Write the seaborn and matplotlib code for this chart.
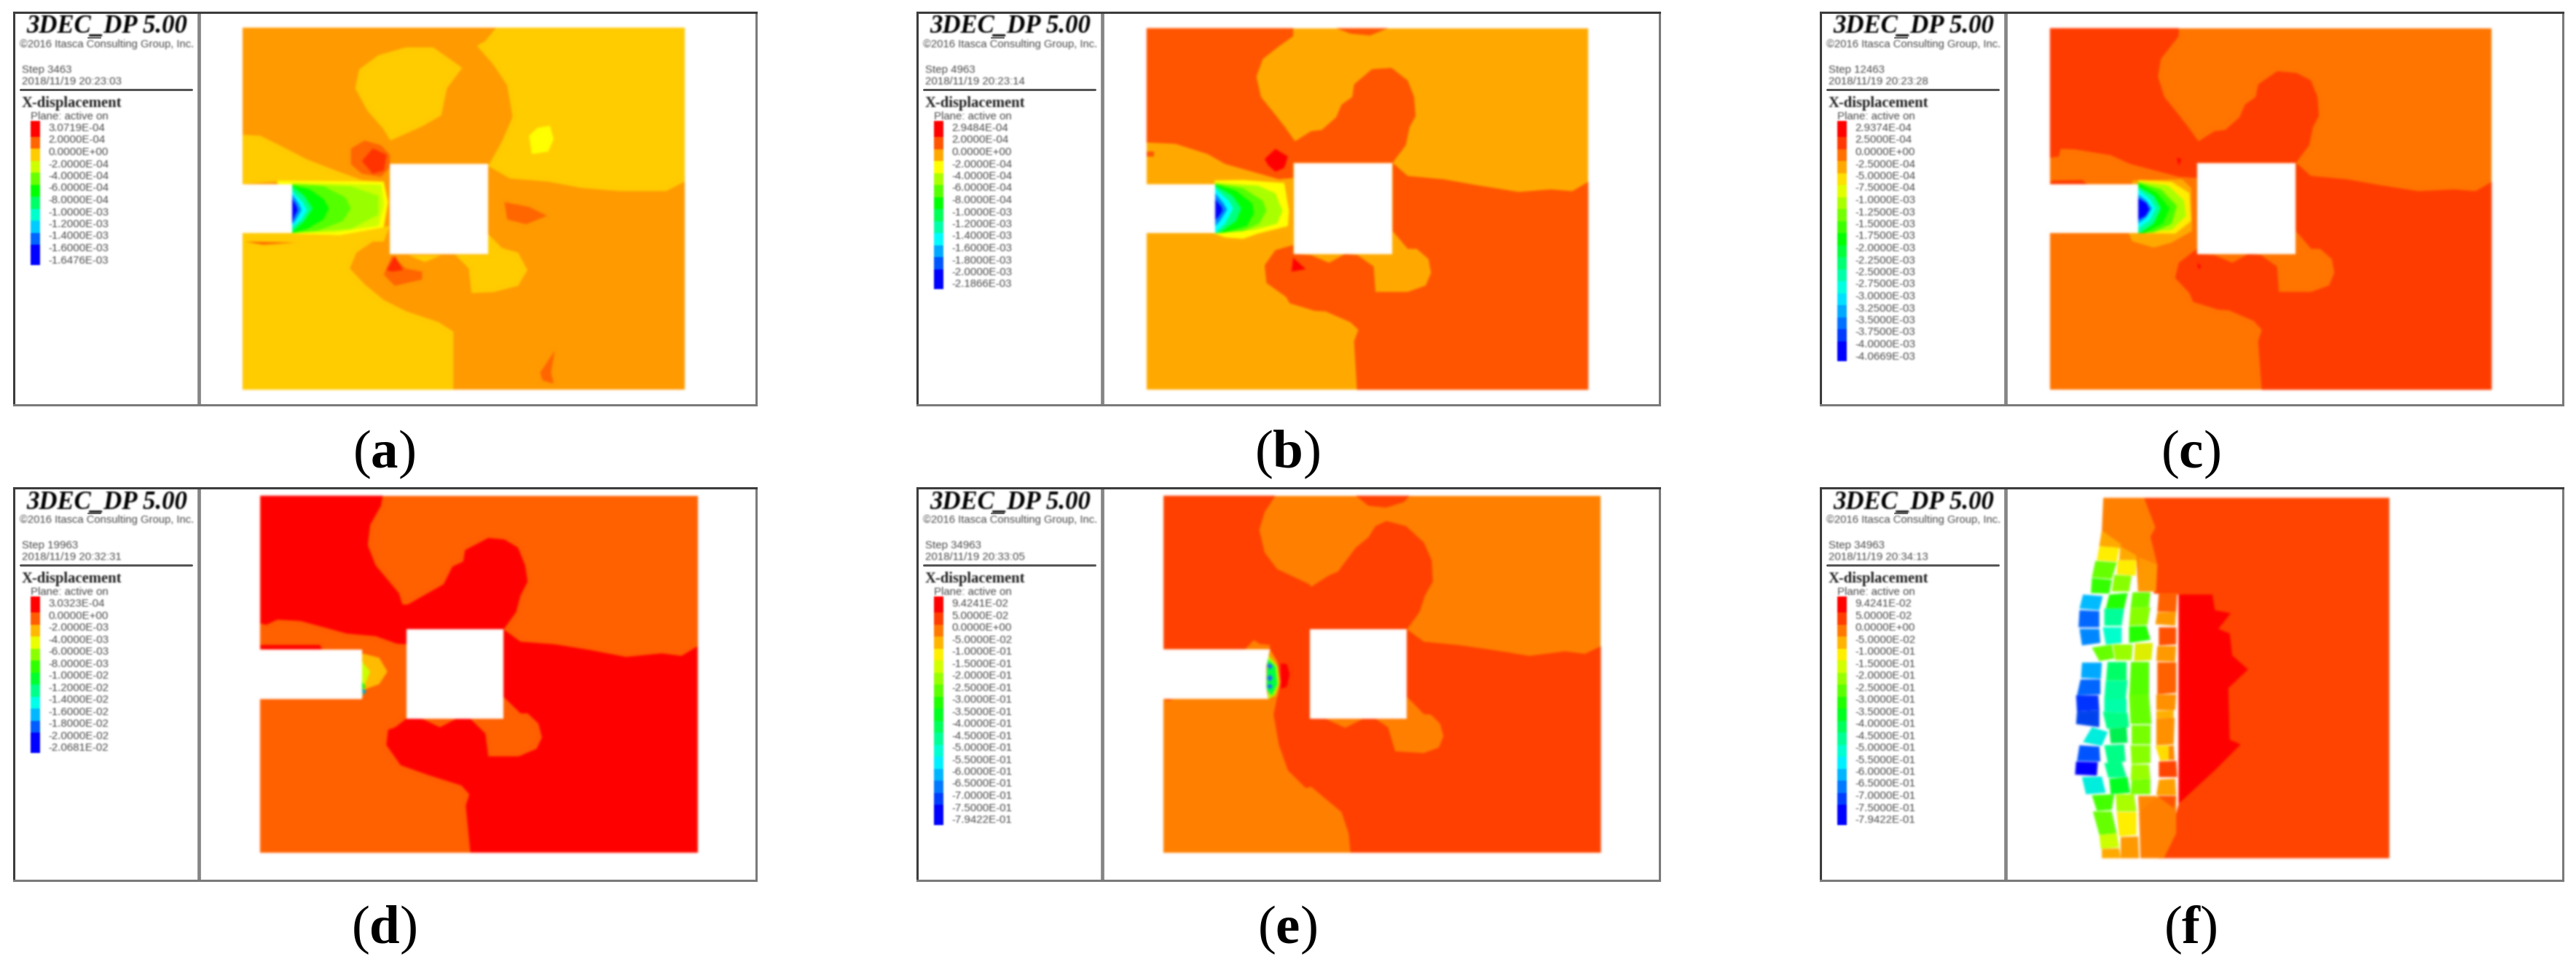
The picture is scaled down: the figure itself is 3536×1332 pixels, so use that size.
import numpy as np
import seaborn as sns
import matplotlib.pyplot as plt
from matplotlib.colors import ListedColormap, LinearSegmentedColormap

W, H = 3537, 1332

# ---- legend text, one list per panel
STEPS = ["Step 3463", "Step 4963", "Step 12463", "Step 19963", "Step 34963", "Step 34963"]
DATES = ["2018/11/19 20:23:03", "2018/11/19 20:23:14", "2018/11/19 20:23:28",
         "2018/11/19 20:32:31", "2018/11/19 20:33:05", "2018/11/19 20:34:13"]
CAPTIONS = ["a", "b", "c", "d", "e", "f"]

LABELS_A = ["3.0719E-04", "2.0000E-04", "0.0000E+00", "-2.0000E-04", "-4.0000E-04", "-6.0000E-04",
            "-8.0000E-04", "-1.0000E-03", "-1.2000E-03", "-1.4000E-03", "-1.6000E-03", "-1.6476E-03"]
LABELS_B = ["2.9484E-04", "2.0000E-04", "0.0000E+00", "-2.0000E-04", "-4.0000E-04", "-6.0000E-04",
            "-8.0000E-04", "-1.0000E-03", "-1.2000E-03", "-1.4000E-03", "-1.6000E-03", "-1.8000E-03",
            "-2.0000E-03", "-2.1866E-03"]
LABELS_C = ["2.9374E-04", "2.5000E-04", "0.0000E+00", "-2.5000E-04", "-5.0000E-04", "-7.5000E-04",
            "-1.0000E-03", "-1.2500E-03", "-1.5000E-03", "-1.7500E-03", "-2.0000E-03", "-2.2500E-03",
            "-2.5000E-03", "-2.7500E-03", "-3.0000E-03", "-3.2500E-03", "-3.5000E-03", "-3.7500E-03",
            "-4.0000E-03", "-4.0669E-03"]
LABELS_D = ["3.0323E-04", "0.0000E+00", "-2.0000E-03", "-4.0000E-03", "-6.0000E-03", "-8.0000E-03",
            "-1.0000E-02", "-1.2000E-02", "-1.4000E-02", "-1.6000E-02", "-1.8000E-02", "-2.0000E-02",
            "-2.0681E-02"]
LABELS_E = ["9.4241E-02", "5.0000E-02", "0.0000E+00", "-5.0000E-02", "-1.0000E-01", "-1.5000E-01",
            "-2.0000E-01", "-2.5000E-01", "-3.0000E-01", "-3.5000E-01", "-4.0000E-01", "-4.5000E-01",
            "-5.0000E-01", "-5.5000E-01", "-6.0000E-01", "-6.5000E-01", "-7.0000E-01", "-7.5000E-01",
            "-7.9422E-01"]
LABELS_F = LABELS_E

# ---- contour regions, in units of the traced crop
# panel a
A_BASE = [(443, 88), (1249, 88), (1249, 1234), (443, 1234)]
A_UPPER = [[(905, 88), (885, 130), (870, 145), (900, 205), (925, 270), (935, 370), (915, 450), (893, 518),
            (890, 525), (930, 565), (1000, 575), (1060, 595), (1130, 605), (1215, 605), (1249, 575), (1249, 88)],
           [(790, 150), (740, 150), (690, 175), (655, 220), (648, 280), (670, 350), (700, 410), (712, 445),
            (770, 400), (805, 365), (815, 280), (843, 215), (815, 180)],
           [(443, 427), (475, 430), (510, 460), (560, 505), (620, 545), (660, 570), (700, 575), (505, 575), (443, 583)],
           [(443, 738), (533, 738), (620, 745), (711, 715), (700, 765), (680, 765), (650, 800), (638, 850), (665, 900),
            (700, 950), (740, 985), (800, 1020), (827, 1050), (827, 1234), (443, 1234)],
           [(745, 808), (775, 830), (805, 808)],
           [(890, 740), (915, 785), (945, 800), (962, 855), (945, 905), (900, 925), (860, 928), (855, 850),
            (830, 806), (890, 806)]]
A_PATCH = [("#ffff00", [(965, 430), (980, 405), (1003, 398), (1010, 440), (1000, 480), (970, 488)]),
           ("#ff6600", [(640, 470), (665, 445), (695, 460), (711, 490), (711, 530), (695, 560), (660, 550), (640, 520)]),
           ("#ff3300", [(660, 510), (680, 470), (705, 490), (700, 540), (680, 550)]),
           ("#ff6600", [(920, 640), (965, 655), (998, 683), (960, 710), (925, 695)]),
           ("#ff6600", [(700, 870), (715, 810), (740, 850), (770, 860), (770, 885), (720, 905)]),
           ("#ff2a00", [(705, 855), (720, 810), (735, 855), (715, 860)]),
           ("#ff6600", [(985, 1180), (1012, 1110), (1005, 1180), (1010, 1215), (990, 1205)]),
           ("#ff6600", [(447, 765), (540, 768), (480, 775)]),
           ("#ffff00", [(505, 572), (700, 575), (708, 640), (700, 720), (620, 745), (533, 740)]),
           ("#ccff00", [(533, 580), (695, 585), (700, 650), (690, 715), (610, 735), (533, 738)]),
           ("#99ff00", [(533, 582), (640, 590), (690, 620), (690, 680), (640, 725), (533, 738)]),
           ("#55ff00", [(533, 584), (590, 590), (630, 625), (640, 660), (625, 700), (580, 730), (533, 738)]),
           ("#00ff00", [(533, 586), (565, 600), (590, 630), (600, 660), (590, 695), (560, 725), (533, 738)]),
           ("#00ff88", [(533, 590), (555, 620), (570, 660), (555, 700), (533, 735)]),
           ("#00ffff", [(533, 605), (552, 640), (560, 665), (550, 695), (533, 720)]),
           ("#0088ff", [(533, 615), (545, 645), (550, 665), (540, 695), (533, 712)]),
           ("#0000ff", [(533, 630), (540, 650), (543, 665), (536, 690), (533, 705)])]
A_VOIDS = [[(420, 583), (533, 583), (533, 738), (420, 738)], [(711, 518), (890, 518), (890, 804), (711, 804)]]

# panel b
B_BASE = [(130, 68), (1365, 68), (1365, 1497), (130, 1497)]
B_UPPER = [[(130, 68), (540, 68), (540, 100), (500, 140), (455, 190), (437, 260), (450, 340), (490, 410), (520, 465),
            (545, 515), (590, 475), (620, 470), (660, 420), (675, 370), (705, 340), (710, 290), (760, 230), (815, 225),
            (860, 275), (878, 340), (882, 415), (865, 460), (855, 530), (818, 600), (540, 600), (540, 660), (500, 665),
            (350, 605), (300, 565), (210, 525), (130, 520)],
           [(660, 68), (805, 68), (755, 97), (700, 90)],
           [(1365, 675), (1320, 712), (1260, 705), (1170, 715), (1060, 690), (960, 665), (860, 652), (818, 600),
            (818, 870), (860, 940), (885, 940), (918, 980), (925, 1035), (910, 1085), (860, 1110), (770, 1110),
            (765, 1010), (720, 965), (685, 960), (640, 995), (590, 965), (540, 960), (540, 925), (490, 945), (460, 1005),
            (465, 1075), (520, 1130), (530, 1155), (600, 1185), (630, 1187), (700, 1230), (722, 1260), (710, 1305),
            (718, 1497), (1365, 1497)],
           [(130, 555), (150, 555), (150, 575), (130, 575)]]
B_PATCH = [("#ff0000", [(460, 585), (490, 545), (525, 575), (515, 620), (490, 635), (470, 610)]),
           ("#ff0000", [(540, 975), (575, 1020), (535, 1030)]),
           ("#ffff00", [(320, 670), (400, 668), (515, 680), (528, 790), (525, 850), (440, 880), (400, 900), (350, 895), (320, 880)]),
           ("#aaff00", [(322, 680), (440, 690), (490, 720), (510, 790), (495, 840), (430, 865), (322, 878)]),
           ("#55ff00", [(322, 682), (400, 700), (455, 750), (465, 790), (445, 840), (400, 870), (322, 878)]),
           ("#00ff00", [(322, 685), (380, 710), (425, 760), (430, 800), (410, 850), (350, 875), (322, 878)]),
           ("#00ff80", [(322, 690), (370, 730), (395, 780), (380, 830), (335, 875), (322, 878)]),
           ("#00ffff", [(322, 700), (360, 750), (372, 780), (350, 840), (322, 878)]),
           ("#0080ff", [(322, 720), (345, 760), (355, 785), (335, 830), (322, 850)]),
           ("#0000ff", [(322, 745), (340, 775), (342, 790), (330, 815), (322, 825)])]
B_VOIDS = [[(110, 685), (322, 685), (322, 878), (110, 878)], [(541, 600), (817, 600), (817, 962), (541, 962)]]

# panel c
C_BASE = B_BASE
C_UPPER = [[(130, 68), (490, 68), (490, 100), (440, 190), (432, 260), (450, 340), (490, 410), (520, 465), (545, 515),
            (590, 475), (620, 470), (660, 420), (675, 370), (705, 340), (712, 290), (765, 238), (820, 245), (860, 275),
            (878, 340), (882, 415), (865, 460), (855, 530), (818, 600), (541, 600), (541, 660), (490, 655), (355, 605),
            (300, 570), (200, 547), (160, 545), (155, 575), (130, 580)],
           [(135, 670), (220, 668), (235, 685), (130, 685)],
           [(1365, 675), (1320, 712), (1260, 705), (1160, 712), (1060, 690), (960, 665), (860, 652), (818, 600),
            (818, 870), (860, 940), (885, 940), (918, 980), (925, 1035), (910, 1085), (860, 1110), (770, 1110),
            (765, 1010), (720, 965), (685, 960), (640, 995), (590, 965), (541, 960), (541, 940), (490, 995), (480, 1055),
            (520, 1115), (530, 1150), (600, 1180), (630, 1183), (700, 1225), (722, 1260), (712, 1305), (722, 1497),
            (1365, 1497)]]
C_PATCH = [("#ff0000", [(485, 580), (497, 585), (490, 612)]),
           ("#ff0000", [(542, 995), (553, 1010), (545, 1020)]),
           ("#ffaa00", [(350, 878), (360, 670), (500, 665), (525, 700), (527, 870), (470, 915), (420, 935), (360, 910)]),
           ("#ffee00", [(377, 668), (470, 675), (520, 720), (525, 830), (480, 880), (377, 878)]),
           ("#aaff00", [(377, 675), (460, 690), (505, 750), (510, 810), (470, 865), (377, 878)]),
           ("#44ff00", [(377, 678), (440, 705), (485, 770), (470, 840), (420, 875), (377, 878)]),
           ("#00ff00", [(377, 680), (430, 720), (465, 780), (445, 840), (395, 878), (377, 878)]),
           ("#00ff99", [(377, 695), (420, 730), (440, 780), (420, 840), (385, 875), (377, 875)]),
           ("#00ffff", [(377, 705), (410, 745), (425, 780), (410, 825), (377, 860)]),
           ("#0088ff", [(377, 725), (400, 750), (415, 780), (400, 815), (377, 840)]),
           ("#0000ff", [(377, 740), (400, 760), (408, 785), (397, 810), (377, 825)])]
C_VOIDS = [[(110, 685), (377, 685), (377, 878), (110, 878)], [(541, 600), (817, 600), (817, 962), (541, 962)]]

# panel d
D_BASE = [(178, 45), (1400, 45), (1400, 1455), (178, 1455)]
D_UPPER = [[(178, 45), (520, 45), (515, 85), (485, 160), (478, 240), (500, 320), (565, 430), (575, 475), (590, 475),
            (640, 435), (690, 395), (715, 325), (745, 305), (750, 260), (815, 212), (860, 218), (898, 250), (918, 320),
            (925, 385), (905, 440), (893, 505), (858, 573), (587, 573), (587, 632), (560, 630), (500, 600), (420, 590),
            (290, 540), (225, 535), (195, 555), (178, 550)],
           [(178, 635), (345, 635), (350, 652), (178, 652)],
           [(1400, 640), (1355, 678), (1300, 668), (1200, 682), (1100, 655), (1000, 632), (905, 622), (858, 573),
            (858, 840), (905, 905), (925, 905), (955, 945), (965, 1000), (950, 1045), (900, 1075), (815, 1075),
            (807, 985), (765, 927), (725, 927), (680, 960), (630, 927), (587, 925), (555, 960), (535, 970), (530, 1030),
            (570, 1110), (650, 1150), (740, 1190), (762, 1225), (752, 1270), (765, 1455), (1400, 1455)]]
D_PATCH = [("#ffbb00", [(462, 668), (510, 685), (533, 740), (510, 790), (470, 810), (462, 848)]),
           ("#ccff00", [(462, 700), (485, 740), (470, 790), (462, 800)]),
           ("#00ff00", [(462, 780), (472, 800), (462, 810)]),
           ("#00aacc", [(462, 808), (475, 815), (465, 835)])]
D_VOIDS = [[(150, 652), (462, 652), (462, 848), (150, 848)], [(587, 573), (857, 573), (857, 927), (587, 927)]]

# panel e
E_BASE = D_BASE
E_UPPER = [[(178, 45), (490, 45), (460, 110), (445, 180), (460, 270), (495, 335), (585, 395), (590, 405), (640, 360),
            (665, 345), (715, 250), (750, 210), (770, 165), (800, 145), (855, 165), (905, 230), (927, 300), (930, 385),
            (908, 440), (893, 505), (858, 573), (905, 622), (1000, 635), (1100, 655), (1200, 678), (1300, 660),
            (1355, 670), (1400, 640), (1400, 1455), (700, 1455), (695, 1380), (675, 1295), (590, 1195), (575, 1200),
            (525, 1130), (500, 1030), (485, 910), (495, 840), (475, 850), (475, 652), (475, 635), (445, 630), (430, 615),
            (405, 652), (178, 652)],
           [(715, 45), (865, 45), (850, 70), (800, 92), (750, 85)],
           [(178, 848), (205, 848), (190, 856)]]
E_PATCH = [("#ff8000", [(630, 927), (685, 962), (735, 927), (770, 927), (805, 960), (825, 1055), (905, 1062), (947, 1040),
                        (960, 995), (950, 945), (925, 910), (905, 908), (858, 840), (858, 927)]),
           ("#ff9900", [(475, 652), (495, 700), (505, 780), (495, 840), (470, 850)]),
           ("#aaff00", [(470, 675), (497, 720), (500, 790), (490, 830), (470, 850)]),
           ("#00ff44", [(468, 690), (490, 720), (495, 790), (480, 835), (465, 810)]),
           ("#2266ff", [(466, 715), (475, 708), (483, 718), (475, 732)]),
           ("#2266ff", [(466, 765), (475, 752), (483, 765), (475, 780)]),
           ("#2266ff", [(466, 798), (475, 788), (482, 798), (475, 810)]),
           ("#ff0000", [(505, 708), (522, 710), (530, 750), (522, 800), (505, 808)])]
E_VOIDS = [[(150, 652), (475, 652), (465, 720), (465, 800), (470, 848), (150, 848)],
           [(587, 573), (857, 573), (857, 927), (587, 927)]]

# panel f, the broken blocks
F_UPPER = [[(695, 55), (1190, 55), (1190, 1210), (725, 1210), (750, 1130), (765, 1035), (765, 365), (715, 362),
            (715, 270), (700, 180), (710, 150)]]
F_BLOCKS = [("#ff7f00", [(613, 55), (695, 55), (718, 150), (708, 180), (722, 270), (720, 355), (683, 355), (680, 255),
                         (645, 215), (605, 210), (610, 160)]),
            ("#ff0000", [(765, 365), (833, 365), (838, 415), (870, 425), (845, 475), (868, 490), (873, 560), (905, 605),
                         (865, 665), (868, 830), (890, 845), (840, 925), (765, 1035)]),
            ("#ffaa00", [(610, 160), (650, 205), (645, 215), (605, 210)]),
            ("#ffee00", [(605, 210), (645, 215), (640, 260), (600, 255)]),
            ("#66ff00", [(597, 257), (640, 262), (630, 315), (590, 310)]),
            ("#33ff00", [(590, 312), (630, 318), (625, 362), (588, 360)]),
            ("#ffaa00", [(647, 210), (680, 240), (680, 255), (645, 255)]),
            ("#ffee00", [(642, 255), (680, 255), (678, 305), (640, 300)]),
            ("#88ff00", [(635, 302), (670, 305), (665, 355), (630, 355)]),
            ("#ff9900", [(685, 245), (722, 270), (718, 355), (683, 355)]),
            ("#00bbff", [(572, 365), (612, 370), (605, 415), (565, 410)]),
            ("#0066ff", [(565, 415), (605, 418), (605, 470), (563, 470)]),
            ("#0088ff", [(565, 475), (605, 475), (607, 520), (570, 528)]),
            ("#22ff00", [(625, 365), (662, 360), (655, 410), (618, 410)]),
            ("#00ff99", [(615, 410), (655, 410), (650, 465), (615, 465)]),
            ("#00ffcc", [(612, 470), (650, 470), (650, 520), (618, 525)]),
            ("#66ff00", [(672, 358), (708, 358), (705, 405), (668, 408)]),
            ("#88ff00", [(668, 408), (708, 405), (702, 462), (665, 465)]),
            ("#22ff00", [(665, 467), (700, 465), (708, 510), (665, 520)]),
            ("#ff6000", [(725, 360), (762, 360), (760, 420), (722, 420)]),
            ("#ff9900", [(722, 422), (760, 420), (758, 465), (718, 460)]),
            ("#ff5000", [(725, 470), (760, 470), (760, 525), (725, 528)]),
            ("#66ff00", [(590, 535), (630, 525), (635, 570), (605, 578)]),
            ("#99ff00", [(632, 525), (672, 525), (670, 575), (637, 575)]),
            ("#ddee00", [(677, 522), (713, 520), (710, 575), (675, 578)]),
            ("#ff9900", [(722, 530), (760, 530), (758, 580), (720, 578)]),
            ("#00aaff", [(570, 583), (610, 583), (608, 635), (568, 632)]),
            ("#0066ff", [(567, 637), (607, 637), (607, 685), (560, 688)]),
            ("#0033ff", [(558, 688), (603, 688), (605, 735), (560, 740)]),
            ("#0044ee", [(560, 740), (605, 735), (605, 790), (558, 780)]),
            ("#00ff66", [(622, 580), (660, 580), (660, 640), (618, 640)]),
            ("#00ff99", [(618, 640), (662, 640), (658, 700), (615, 700)]),
            ("#00ffaa", [(615, 700), (660, 700), (660, 745), (615, 740)]),
            ("#00ff88", [(612, 740), (662, 745), (665, 790), (620, 795)]),
            ("#55ff00", [(668, 580), (705, 580), (705, 685), (665, 685)]),
            ("#66ff00", [(665, 685), (705, 685), (710, 780), (668, 780)]),
            ("#ff6000", [(722, 582), (760, 582), (760, 680), (722, 685)]),
            ("#ff9000", [(720, 685), (760, 685), (758, 735), (720, 735)]),
            ("#ffb000", [(720, 738), (755, 735), (755, 760), (720, 762)]),
            ("#ff9000", [(720, 762), (757, 760), (755, 845), (720, 848)]),
            ("#00eedd", [(590, 790), (622, 805), (610, 850), (572, 838)]),
            ("#0055ff", [(565, 848), (605, 852), (607, 900), (560, 898)]),
            ("#0000ff", [(558, 900), (602, 902), (600, 945), (556, 942)]),
            ("#00eedd", [(570, 950), (610, 948), (618, 1000), (578, 1005)]),
            ("#00f050", [(625, 795), (660, 790), (662, 840), (628, 842)]),
            ("#00ff88", [(615, 848), (655, 845), (658, 900), (622, 905)]),
            ("#00ff88", [(615, 905), (650, 900), (660, 950), (623, 952)]),
            ("#00ff22", [(625, 955), (662, 950), (667, 1000), (628, 1005)]),
            ("#77ff00", [(670, 785), (708, 785), (708, 845), (670, 845)]),
            ("#88ff00", [(668, 848), (708, 848), (708, 905), (670, 908)]),
            ("#99ff00", [(670, 910), (705, 910), (708, 955), (668, 960)]),
            ("#77ff00", [(670, 960), (708, 955), (708, 1005), (668, 1005)]),
            ("#ffdd00", [(718, 850), (745, 848), (745, 895), (728, 898)]),
            ("#ff8800", [(745, 850), (755, 848), (757, 895), (745, 895)]),
            ("#ff4400", [(725, 900), (760, 898), (762, 950), (725, 950)]),
            ("#ffa000", [(725, 958), (758, 955), (760, 1008), (720, 1008)]),
            ("#44ff00", [(590, 1008), (635, 1005), (630, 1055), (600, 1058)]),
            ("#66ff00", [(592, 1060), (630, 1060), (640, 1130), (605, 1135)]),
            ("#ccff00", [(605, 1135), (640, 1130), (645, 1175), (608, 1180)]),
            ("#ffaa00", [(610, 1180), (645, 1178), (648, 1210), (610, 1210)]),
            ("#aaff00", [(638, 1005), (675, 1005), (680, 1060), (640, 1060)]),
            ("#ffee00", [(640, 1062), (680, 1062), (680, 1135), (645, 1140)]),
            ("#ff9900", [(648, 1142), (683, 1140), (685, 1210), (648, 1210)]),
            ("#ff8800", [(683, 1010), (720, 1010), (720, 1060), (685, 1060)]),
            ("#ff8000", [(685, 1062), (722, 1012), (760, 1012), (760, 1130), (735, 1210), (688, 1210)]),
            ("#ff5500", [(722, 1010), (760, 1010), (755, 1050)])]

sns.set_theme(style="white")
plt.rcParams["mathtext.fontset"] = "custom"
plt.rcParams["mathtext.rm"] = "Liberation Serif"
plt.rcParams["mathtext.bf"] = "Liberation Serif:bold"

# frame left/top, crop of each traced map (x, y, w, h), and colours of the two main bands
FRAMES = [(19, 17), (1259, 17), (2499, 17), (19, 670), (1259, 670), (2499, 670)]
CROPS = [(0, 0, 1180, 680), (1510, 15, 770, 545), (2750, 15, 770, 545),
         (270, 665, 770, 545), (1510, 665, 770, 545), (2470, 660, 1067, 672)]
BASE_COLORS = ["#ff9a00", "#ffaa00", "#ff7500", "#ff6000", "#ff8000", None]
UPPER_COLORS = ["#ffcc00", "#ff5500", "#ff3c00", "#ff0000", "#ff4000", "#ff4400"]
BASES = [A_BASE, B_BASE, C_BASE, D_BASE, E_BASE, None]
UPPERS = [A_UPPER, B_UPPER, C_UPPER, D_UPPER, E_UPPER, F_UPPER]
PATCHES = [A_PATCH, B_PATCH, C_PATCH, D_PATCH, E_PATCH, F_BLOCKS]
VOIDS = [A_VOIDS, B_VOIDS, C_VOIDS, D_VOIDS, E_VOIDS, []]
LABELS = [LABELS_A, LABELS_B, LABELS_C, LABELS_D, LABELS_E, LABELS_F]

FRAME_W, FRAME_H = 1019, 539
RAMP = LinearSegmentedColormap.from_list("ramp", ["#ff0000", "#ffff00", "#00ff00", "#00ffff", "#0000ff"])
GREY = "#4a4a4a"


def soften(sigma):
    # the source is a scaled-up screenshot, so everything in it is a bit soft
    r = int(3 * sigma) + 1
    kernel = np.exp(-0.5 * (np.arange(-r, r + 1) / sigma) ** 2)
    kernel /= kernel.sum()

    def blur(a):
        a = np.apply_along_axis(np.convolve, 0, a, kernel, mode="same")
        return np.apply_along_axis(np.convolve, 1, a, kernel, mode="same")

    def agg_filter(img, dpi):
        pad = np.pad(img, ((r, r), (r, r), (0, 0)))
        alpha = blur(pad[:, :, 3])
        out = np.zeros_like(pad)
        for c in range(3):
            out[:, :, c] = blur(pad[:, :, c] * pad[:, :, 3]) / np.maximum(alpha, 1e-4)
        out[:, :, 3] = alpha
        return np.clip(out, 0, 1), -r, -r

    return agg_filter


def px_axes(fig, x, y, w, h, **kw):
    return fig.add_axes([x / W, 1 - (y + h) / H, w / W, h / H], **kw)


def poly(ax, pts, color):
    xs, ys = zip(*pts)
    ax.fill(xs, ys, color=color, lw=0)


fig = plt.figure(figsize=(W / 100, H / 100), dpi=100, facecolor="white")
small_blur = soften(1.1)
map_blur = soften(1.6)

for i in range(6):
    fx, fy = FRAMES[i]
    ax = px_axes(fig, fx, fy, FRAME_W, FRAME_H)
    ax.set_xlim(0, FRAME_W)
    ax.set_ylim(FRAME_H, 0)
    ax.set_xticks([])
    ax.set_yticks([])
    for side, col in zip(["top", "left", "right", "bottom"], ["#3c3c3c", "#3c3c3c", "#7a7a7a", "#7a7a7a"]):
        ax.spines[side].set_visible(True)
        ax.spines[side].set_color(col)
        ax.spines[side].set_linewidth(2.2)
    ax.axvline(254, color="#858585", lw=3.4)

    # side bar text
    texts = [
        ax.text(128, 20, "3DEC_DP 5.00", family="Liberation Serif", weight="bold", style="italic",
                fontsize=25, color="#000000", ha="center", va="center"),
        ax.text(128, 44, "©2016 Itasca Consulting Group, Inc.", family="Liberation Sans", fontsize=10.6,
                color=GREY, ha="center", va="center"),
        ax.text(11, 79, STEPS[i], family="Liberation Sans", fontsize=10.8, color=GREY, va="center"),
        ax.text(11, 95, DATES[i], family="Liberation Sans", fontsize=10.8, color=GREY, va="center"),
        ax.text(11, 125, "X-displacement", family="Liberation Serif", weight="bold", fontsize=14.9,
                color="#202020", va="center"),
        ax.text(23, 143, "Plane: active on", family="Liberation Sans", fontsize=10.8, color=GREY, va="center"),
    ]
    ax.plot([102, 119], [35, 35], color="#777777", lw=1.6)
    ax.plot([9, 244], [106, 106], color="#555555", lw=2.2)

    labels = LABELS[i]
    n_cells = len(labels) - 1
    for k, lab in enumerate(labels):
        texts.append(ax.text(47, 159 + 16.5 * k, lab, family="Liberation Sans", fontsize=10.8,
                             color=GREY, va="center"))
    for t in texts:
        t.set_agg_filter(small_blur)

    # legend strip, one level per interval; first and last intervals are taller
    counts = np.full(n_cells, 3)
    counts[0] = 4
    counts[-1] = 5
    strip = np.repeat(np.arange(n_cells), counts).reshape(-1, 1)
    strip_ax = px_axes(fig, fx + 23, fy + 149, 13, 5.5 * counts.sum())
    sns.heatmap(strip, ax=strip_ax, cmap=ListedColormap(RAMP(np.linspace(0, 1, n_cells))), cbar=False,
                xticklabels=False, yticklabels=False, linewidths=0)
    strip_ax.set_agg_filter(small_blur)

    # traced map
    cx, cy, cw, ch = CROPS[i]
    m = px_axes(fig, cx, cy, cw, ch)
    m.patch.set_alpha(0)
    m.set_xlim(0, 1568)
    m.set_ylim(1568, 0)
    m.axis("off")
    if BASES[i] is not None:
        poly(m, BASES[i], BASE_COLORS[i])
    for pts in UPPERS[i]:
        poly(m, pts, UPPER_COLORS[i])
    for col, pts in PATCHES[i]:
        poly(m, pts, col)
    for pts in VOIDS[i]:
        poly(m, pts, "white")
    m.set_agg_filter(map_blur)

    # caption below the frame
    ax.annotate(r"($\mathbf{%s}$)" % CAPTIONS[i], (508, FRAME_H + 68), annotation_clip=False, fontsize=54,
                family="Liberation Serif", color="black", ha="center", va="center")

fig.savefig("out.png", dpi=100)
